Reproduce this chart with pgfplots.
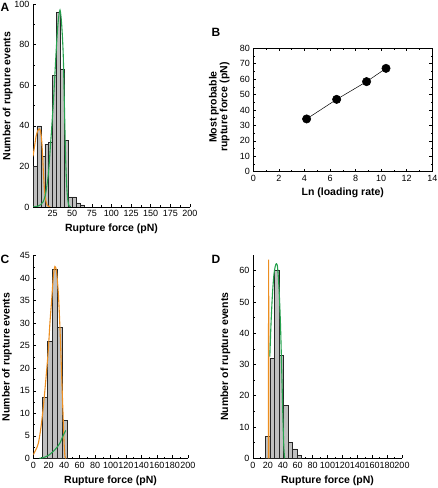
\documentclass[border=0pt]{standalone}
\usepackage{fontspec}
\setmainfont{Liberation Sans}
\usepackage{pgfplots}
\pgfplotsset{compat=1.18}
\definecolor{myorange}{RGB}{236,142,32}
\definecolor{mygreen}{RGB}{38,162,78}
\definecolor{barfill}{RGB}{192,192,192}
\pgfplotsset{
  base/.style={scale only axis, tick align=inside,
    /pgf/number format/assume math mode=true,
    ticklabel style={font=\fontsize{9}{9}\selectfont},
    label style={font=\bfseries\fontsize{10.5}{11}\selectfont},
    major tick length=3pt, minor tick length=1.8pt,
    tick style={black, line width=0.5pt},
    axis line style={line width=0.6pt}},
  hist/.style={base, axis lines*=left, xmin=0, xmax=200, ymin=0,
    xlabel={Rupture force (pN)}, ylabel={Number of rupture events},
    xlabel style={at={(axis description cs:0.5,0)}, anchor=center, yshift=-22pt}},
  bars/.style={ybar interval, fill=barfill, draw=black!85, line width=0.5pt},
  fitc/.style={smooth, line width=1.1pt, no markers},
}
\begin{document}
\begin{tikzpicture}
\path[use as bounding box] (0pt,0pt) rectangle (438pt,488pt);
% ---------------- A
\begin{axis}[hist, at={(33pt,281pt)}, anchor=south west, width=157pt, height=203pt, ymax=100,
  xtick={25,50,...,200}, minor x tick num=1, ytick={0,20,...,100}, minor y tick num=1,
  ylabel style={at={(axis description cs:-0.162,0.547)}, anchor=center}]
\addplot[bars] coordinates {(0,20) (5,40) (10,25) (15,31) (20,32) (25,65) (30,96) (35,68) (40,33) (45,5) (50,5) (55,2) (60,1) (65,0)};
\addplot[fitc, myorange] coordinates {(0,25) (2,30) (4,35) (6,37.5) (8,38.5) (9.5,37.5) (11,33) (12,27) (13,19) (14,12) (15,7) (16,4) (17,2) (18,1) (20,0.2) (22,0)};
\addplot[fitc, mygreen] coordinates {(0,0) (6,0.4) (10,1.2) (13,2.6) (16,6.5) (19.5,16) (22,29) (24,40) (26,52) (28,66) (30,80) (32,91) (34.4,97) (36.5,90) (38.5,75) (40,50) (41.5,25) (43,10) (44.5,3) (46,0.5) (48,0)};
\end{axis}
\node[font=\bfseries\fontsize{12}{12}\selectfont] at (5pt,481pt) {A};
% ---------------- B
\begin{axis}[base, at={(253.3pt,316.3pt)}, anchor=south west, width=179pt, height=123.4pt,
  xmin=0, xmax=14, ymin=0, ymax=80, xtick={0,2,...,14}, ytick={0,10,...,80},
  minor x tick num=1, minor y tick num=1, xtick pos=both, ytick pos=both,
  xlabel={Ln (loading rate)}, ylabel={Most probable\\rupture force (pN)},
  xlabel style={at={(axis description cs:0.5,0)}, anchor=center, yshift=-21.3pt},
  ylabel style={align=center, font=\bfseries\fontsize{10.5}{9.5}\selectfont, at={(axis description cs:-0.19,0.524)}, anchor=center}]
\addplot[black, line width=0.5pt, mark=*, mark size=4.2pt, mark options={fill=black}] coordinates {(4.17,34.2) (6.52,46.9) (8.86,58.4) (10.38,67.0)};
\end{axis}
\node[font=\bfseries\fontsize{12}{12}\selectfont] at (216pt,456pt) {B};
% ---------------- C
\begin{axis}[hist, at={(33.3pt,29.7pt)}, anchor=south west, width=154.5pt, height=202.6pt, ymax=45,
  xtick={0,20,...,200}, minor x tick num=1, ytick={0,5,...,45}, minor y tick num=1,
  ylabel style={at={(axis description cs:-0.17,0.5)}, anchor=center}]
\addplot[bars] coordinates {(12,13.5) (18.4,26) (24.8,42) (31.2,29) (37.6,8.5) (44,0)};
\addplot[fitc, myorange] coordinates {(0,0.8) (3,1.8) (6.5,3.3) (10,7) (13,11.5) (16,17) (19.4,24) (21.5,30) (23.8,35.2) (26,40.5) (28,42.6) (30,41.5) (32.4,36.7) (34.5,29) (36.8,18) (38.9,7.8) (40,3) (41,0.4) (42,0)};
\addplot[fitc, mygreen] coordinates {(8,0) (14,0.2) (20,0.7) (25,1.4) (30,2.3) (34.5,3.4) (38.5,5) (42,6.2)};
\end{axis}
\node[font=\bfseries\fontsize{12}{12}\selectfont] at (5pt,229pt) {C};
% ---------------- D
\begin{axis}[hist, at={(253pt,29.7pt)}, anchor=south west, width=149pt, height=203.3pt, ymax=65,
  xtick={0,20,...,200}, minor x tick num=1, ytick={0,10,...,60}, minor y tick num=1,
  ylabel style={at={(axis description cs:-0.185,0.5)}, anchor=center}]
\addplot[bars] coordinates {(17,7) (23,32) (29,60) (35,33) (41,17) (47,5) (53,3) (59,1) (65,0)};
\addplot[line width=1.1pt, myorange, no markers] coordinates {(20.6,0) (21,63.5) (21.4,0)};
\addplot[fitc, mygreen] coordinates {(22.6,32.5) (24,42) (26,52) (28,58.5) (30,61.5) (31.5,62.2) (33,61) (35,54) (37,42) (39,24) (40.5,10) (41.5,3) (42.5,0)};
\end{axis}
\node[font=\bfseries\fontsize{12}{12}\selectfont] at (216pt,229pt) {D};
\end{tikzpicture}
\end{document}
